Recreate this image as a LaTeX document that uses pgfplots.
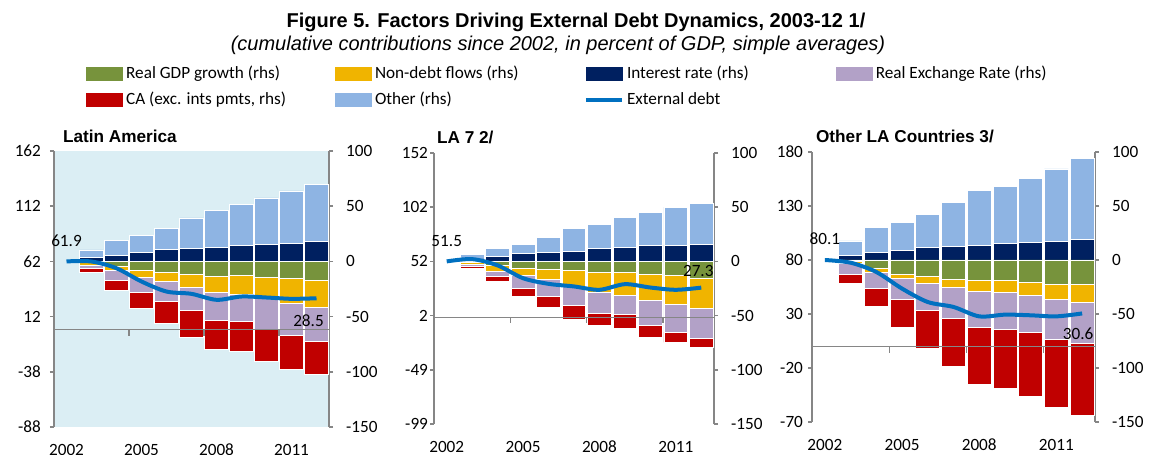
\documentclass[border=0pt]{standalone}
\usepackage{fontspec}
\setmainfont{Carlito}
\newfontfamily\arialf{Liberation Sans}
\usepackage{pgfplots}
\usepackage{pgfplotstable}
\pgfplotsset{compat=1.18}

\definecolor{gdpc}{RGB}{119,147,60}
\definecolor{ndfc}{RGB}{240,180,0}
\definecolor{intc}{RGB}{0,32,96}
\definecolor{rerc}{RGB}{178,161,199}
\definecolor{cac}{RGB}{192,0,0}
\definecolor{othc}{RGB}{142,180,227}
\definecolor{linec}{RGB}{0,112,192}
\definecolor{bgc}{RGB}{219,238,244}
\definecolor{axc}{RGB}{134,134,134}

\pgfplotstableread{
x gdp ndf int rer ca oth debt
0 0 0 0 0 0 0 61.9
1 -1.1 -2.1 3.4 -2.7 -3.9 7.0 61.8
2 -4.6 -4.0 5.6 -8.4 -9.7 13.3 55.7
3 -7.7 -6.9 8.0 -13.3 -14.4 15.7 43.7
4 -9.8 -8.5 10.7 -18.0 -20.2 19.3 34.6
5 -12.2 -11.1 11.6 -21.4 -24.2 27.8 32.5
6 -13.7 -14.6 12.8 -24.9 -26.2 33.0 27.1
7 -13.1 -16.8 14.1 -24.5 -27.4 37.5 30.1
8 -14.6 -17.3 15.3 -29.4 -29.0 42.2 29.2
9 -15.8 -22.1 16.5 -29.5 -30.1 47.3 28.0
10 -17.3 -24.1 17.7 -31.1 -30.2 52.1 28.5
}\dataA

\pgfplotstableread{
x gdp ndf int rer ca oth debt
0 0 0 0 0 0 0 51.5
1 -1.0 -2.2 2.3 -1.3 -1.7 4.5 53.6
2 -4.0 -5.2 4.6 -4.7 -4.9 7.7 47.8
3 -6.2 -7.0 7.0 -11.7 -7.4 8.9 36.0
4 -7.7 -8.6 8.3 -16.0 -9.9 13.8 30.8
5 -8.6 -14.5 9.5 -17.9 -12.3 21.2 28.4
6 -9.9 -18.4 12.0 -20.0 -10.8 22.1 25.3
7 -9.9 -21.5 13.2 -17.9 -12.9 27.4 30.5
8 -12.3 -23.4 14.8 -23.7 -10.8 30.4 27.4
9 -13.2 -26.2 14.8 -25.9 -9.5 35.3 25.3
10 -15.4 -27.7 15.4 -27.7 -8.3 38.4 27.3
}\dataB

\pgfplotstableread{
x gdp ndf int rer ca oth debt
0 0 0 0 0 0 0 80.1
1 -1.5 -1.5 4.0 -10.2 -8.7 13.6 77.6
2 -8.0 -3.7 7.4 -14.8 -16.1 22.5 69.0
3 -13.3 -3.4 9.0 -19.7 -25.6 25.9 53.6
4 -15.1 -6.8 11.4 -24.7 -35.5 30.9 41.2
5 -18.2 -7.4 12.7 -28.1 -44.4 41.0 36.6
6 -19.1 -9.9 13.6 -33.7 -52.7 50.9 27.9
7 -19.1 -11.1 15.1 -33.7 -55.2 53.1 29.5
8 -20.7 -12.0 16.4 -34.6 -58.9 59.2 28.9
9 -22.8 -13.9 17.3 -36.8 -62.6 67.0 27.9
10 -22.8 -16.1 19.1 -38.0 -66.9 75.0 30.6
}\dataC

\newcommand{\tfont}{\fontsize{8.6}{10}\selectfont}

\pgfplotsset{
  base/.style={scale only axis, xmin=-0.5, xmax=10.5,
    axis line style={axc, line width=0.8pt},
    tick style={axc, line width=0.8pt},
    major tick length=2pt, tick align=outside,
    ticklabel style={font=\tfont}, clip=false},
  rbars/.style={base, ymin=-150, ymax=100, axis x line=none, axis y line*=right,
    ytick={-150,-100,-50,0,50,100}, yticklabels={-150,-100,-50,0,50,100},
    yticklabel style={xshift=3pt},
    ybar stacked, bar width=0.93},
  nbars/.style={base, ymin=-150, ymax=100, hide axis, ybar stacked, bar width=0.93},
  laxis/.style={base, axis y line*=left, axis x line*=bottom,
    x axis line style={draw=none}, xtick={0,3,6,9},
    xticklabels={2002,2005,2008,2011}, xtick style={draw=none},
    xticklabel style={yshift=-3pt},
    extra y ticks={0}, extra y tick labels={},
    extra y tick style={grid=major, major tick length=0pt,
      major grid style={axc, line width=0.6pt}}},
  bs/.style={fill=#1, draw=white, line width=0.4pt},
  sw/.style={legend image code/.code={\fill[#1] (0pt,-3.25pt) rectangle (18pt,3.25pt);}},
  debtline/.style={linec, line width=2pt, smooth, no marks},
}
\newcommand{\xticks}{%
  \draw[axc, line width=0.6pt] (axis cs:2.5,0) -- ([yshift=-3pt]axis cs:2.5,0)
    (axis cs:5.5,0) -- ([yshift=-3pt]axis cs:5.5,0)
    (axis cs:8.5,0) -- ([yshift=-3pt]axis cs:8.5,0);}

\begin{document}
\begin{tikzpicture}
\useasboundingbox (0,0) rectangle (575.5pt,227.5pt);

% titles
\node[font=\arialf\bfseries\fontsize{10}{12}\selectfont] at (288pt,216.2pt) {Figure 5. Factors Driving External Debt Dynamics, 2003-12 1/};
\node[font=\arialf\itshape\fontsize{10}{12}\selectfont] at (279pt,204.8pt) {(cumulative contributions since 2002, in percent of GDP, simple averages)};

% legend
\begin{axis}[hide axis, scale only axis, width=1pt, height=1pt,
  xmin=0, xmax=1, ymin=0, ymax=1, at={(43pt,195.3pt)}, anchor=south west,
  legend columns=4, legend cell align=left,
  legend style={at={(0,0)}, anchor=north west, draw=none, fill=none,
    inner sep=0pt, font=\tfont, row sep=4.5pt,
    nodes={inner xsep=1.5pt, inner ysep=0.5pt}}]
\addlegendimage{sw=gdpc}\addlegendentry{\makebox[103pt][l]{Real GDP growth (rhs)}}
\addlegendimage{sw=ndfc}\addlegendentry{\makebox[103pt][l]{Non-debt flows (rhs)}}
\addlegendimage{sw=intc}\addlegendentry{\makebox[103pt][l]{Interest rate (rhs)}}
\addlegendimage{sw=rerc}\addlegendentry{\makebox[103pt][l]{Real Exchange Rate (rhs)}}
\addlegendimage{sw=cac}\addlegendentry{\makebox[103pt][l]{CA (exc. ints pmts, rhs)}}
\addlegendimage{sw=othc}\addlegendentry{\makebox[103pt][l]{Other (rhs)}}
\addlegendimage{legend image code/.code={\draw[linec, line width=2pt] (0pt,0pt) -- (18pt,0pt);}}\addlegendentry{\makebox[103pt][l]{External debt}}
\end{axis}

% panel titles
\node[anchor=west, font=\arialf\bfseries\fontsize{8.6}{10}\selectfont] at (28pt,159.5pt) {Latin America};
\node[anchor=west, font=\arialf\bfseries\fontsize{8.6}{10}\selectfont] at (215pt,159pt) {LA 7 2/};
\node[anchor=west, font=\arialf\bfseries\fontsize{8.6}{10}\selectfont] at (404.5pt,159.5pt) {Other LA Countries 3/};

% ===== Panel 1 =====
\begin{axis}[rbars, at={(27pt,14pt)}, width=137.5pt, height=138pt,
  axis background/.style={fill=bgc}]
\addplot[bs=intc] table[x=x,y=int, skip coords between index={0}{1}] {\dataA};
\addplot[bs=othc] table[x=x,y=oth, skip coords between index={0}{1}] {\dataA};
\end{axis}
\begin{axis}[nbars, at={(27pt,14pt)}, width=137.5pt, height=138pt]
\addplot[bs=gdpc] table[x=x,y=gdp, skip coords between index={0}{1}] {\dataA};
\addplot[bs=ndfc] table[x=x,y=ndf, skip coords between index={0}{1}] {\dataA};
\addplot[bs=rerc] table[x=x,y=rer, skip coords between index={0}{1}] {\dataA};
\addplot[bs=cac] table[x=x,y=ca, skip coords between index={0}{1}] {\dataA};
\end{axis}
\begin{axis}[laxis, at={(27pt,14pt)}, width=137.5pt, height=138pt,
  ymin=-88.1, ymax=161.9,
  ytick={-88.1,-38.1,11.9,61.9,111.9,161.9},
  yticklabels={-88,-38,12,62,112,162},
  yticklabel style={xshift=-1pt}]
\xticks
\addplot[debtline] table[x=x,y=debt] {\dataA};
\node[font=\tfont] at (axis cs:0,61.9) [yshift=10.5pt] {61.9};
\node[font=\tfont] at (axis cs:10,28.5) [xshift=-4pt, yshift=-11pt] {28.5};
\end{axis}

% ===== Panel 2 =====
\begin{axis}[rbars, at={(217pt,15.5pt)}, width=140pt, height=135.5pt]
\addplot[bs=intc] table[x=x,y=int, skip coords between index={0}{1}] {\dataB};
\addplot[bs=othc] table[x=x,y=oth, skip coords between index={0}{1}] {\dataB};
\end{axis}
\begin{axis}[nbars, at={(217pt,15.5pt)}, width=140pt, height=135.5pt]
\addplot[bs=gdpc] table[x=x,y=gdp, skip coords between index={0}{1}] {\dataB};
\addplot[bs=ndfc] table[x=x,y=ndf, skip coords between index={0}{1}] {\dataB};
\addplot[bs=rerc] table[x=x,y=rer, skip coords between index={0}{1}] {\dataB};
\addplot[bs=cac] table[x=x,y=ca, skip coords between index={0}{1}] {\dataB};
\end{axis}
\begin{axis}[laxis, at={(217pt,15.5pt)}, width=140pt, height=135.5pt,
  ymin=-98.5, ymax=151.5,
  ytick={-98.5,-48.5,1.5,51.5,101.5,151.5},
  yticklabels={-99,-49,2,52,102,152},
  yticklabel style={xshift=2.5pt}]
\xticks
\addplot[debtline] table[x=x,y=debt] {\dataB};
\node[font=\tfont] at (axis cs:0,51.5) [yshift=10pt] {51.5};
\node[font=\tfont] at (axis cs:10,27.3) [xshift=-1.5pt, yshift=8.5pt] {27.3};
\end{axis}

% ===== Panel 3 =====
\begin{axis}[rbars, at={(406pt,16.5pt)}, width=141.5pt, height=135pt]
\addplot[bs=intc] table[x=x,y=int, skip coords between index={0}{1}] {\dataC};
\addplot[bs=othc] table[x=x,y=oth, skip coords between index={0}{1}] {\dataC};
\end{axis}
\begin{axis}[nbars, at={(406pt,16.5pt)}, width=141.5pt, height=135pt]
\addplot[bs=gdpc] table[x=x,y=gdp, skip coords between index={0}{1}] {\dataC};
\addplot[bs=ndfc] table[x=x,y=ndf, skip coords between index={0}{1}] {\dataC};
\addplot[bs=rerc] table[x=x,y=rer, skip coords between index={0}{1}] {\dataC};
\addplot[bs=cac] table[x=x,y=ca, skip coords between index={0}{1}] {\dataC};
\end{axis}
\begin{axis}[laxis, at={(406pt,16.5pt)}, width=141.5pt, height=135pt,
  ymin=-69.9, ymax=180.1,
  ytick={-69.9,-19.9,30.1,80.1,130.1,180.1},
  yticklabels={-70,-20,30,80,130,180},
  yticklabel style={xshift=1pt}]
\xticks
\addplot[debtline] table[x=x,y=debt] {\dataC};
\node[font=\tfont] at (axis cs:0,80.1) [yshift=10.5pt] {80.1};
\node[font=\tfont] at (axis cs:10,30.6) [xshift=-2pt, yshift=-10pt] {30.6};
\end{axis}
\end{tikzpicture}
\end{document}
